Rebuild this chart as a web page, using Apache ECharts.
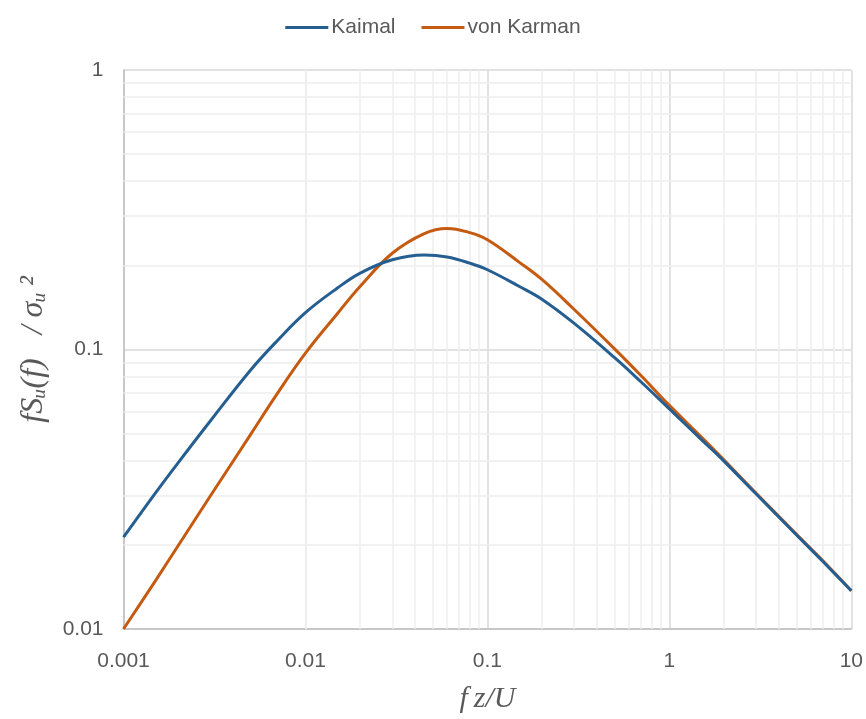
<!DOCTYPE html>
<html><head><meta charset="utf-8">
<script src="https://cdn.jsdelivr.net/npm/echarts@6/dist/echarts.min.js"></script>
<style>html,body{margin:0;padding:0;background:#fff}#c{width:866px;height:719px}</style>
</head><body><div id="c"></div>
<script>
var freq = [0.001,0.0015,0.002,0.003,0.005,0.007,0.01,0.015,0.02,0.03,0.045,0.06,0.08,0.1,0.15,0.2,0.3,0.5,0.7,1,1.5,2,3,5,7,10];
var kaimal = [0.0213,0.0307,0.0394,0.0555,0.0845,0.1075,0.1355,0.166,0.1877,0.2094,0.2178,0.2143,0.2037,0.1929,0.168,0.151,0.124,0.0935,0.0765,0.0613,0.0476,0.0398,0.0304,0.0217,0.0174,0.0137];
var vonKarman = [0.0100,0.0149,0.0199,0.0299,0.0497,0.0695,0.0970,0.1345,0.1684,0.221,0.260,0.271,0.262,0.247,0.205,0.1777,0.139,0.1005,0.0805,0.0631,0.0486,0.0402,0.0306,0.0218,0.0175,0.0137];
var seriesNames = ['Kaimal','von Karman'];
var xMinorGrid = [0.002,0.003,0.004,0.005,0.006,0.007,0.008,0.009,0.02,0.03,0.04,0.05,0.06,0.07,0.08,0.09,0.2,0.3,0.4,0.5,0.6,0.7,0.8,0.9,2,3,4,5,6,7,8,9];
var yMinorGrid = [0.02,0.03,0.04,0.05,0.06,0.07,0.08,0.09,0.2,0.3,0.4,0.5,0.6,0.7,0.8,0.9];

function pairs(xs, ys){ return xs.map(function(x,i){ return [x, ys[i]]; }); }
var minorData = xMinorGrid.map(function(v){ return {xAxis: v}; }).concat(yMinorGrid.map(function(v){ return {yAxis: v}; }));

var sansFont = '"Liberation Sans Narrow","Arial Narrow","Liberation Sans",sans-serif';
var mathFont = '"Liberation Serif","DejaVu Serif",serif';
var chart = echarts.init(document.getElementById('c'), null, {renderer:'canvas'});
chart.setOption({
  animation:false,
  backgroundColor:'#fff',
  legend:{
    top:12, left:'center', icon:'rect', itemWidth:43, itemHeight:3, itemGap:26,
    textStyle:{color:'#595959', fontSize:21, fontFamily:sansFont, padding:[0,0,0,-2]},
    data:seriesNames
  },
  grid:{left:123.5, right:13.5, top:70, bottom:84.5, containLabel:false},
  xAxis:{
    type:'log', logBase:10, min:0.001, max:10,
    name:'f\u2009z/U', nameLocation:'middle', nameGap:55,
    nameTextStyle:{fontFamily:mathFont, fontStyle:'italic', fontSize:30, color:'#595959'},
    axisLine:{show:true, lineStyle:{color:'#bfbfbf', width:1.5}},
    axisTick:{show:false},
    axisLabel:{margin:22, color:'#595959', fontSize:21, fontFamily:sansFont, formatter:function(v){return String(+v.toPrecision(3));}},
    splitLine:{show:true, lineStyle:{color:'#d9d9d9', width:1.5}}
  },
  yAxis:{
    type:'log', logBase:10, min:0.01, max:1,
    name:'fS\u1d64(f)\u2002 / \u03c3\u1d64\u2009\u00b2', nameLocation:'middle', nameGap:74, nameRotate:90,
    nameTextStyle:{fontFamily:mathFont, fontStyle:'italic', fontSize:32, color:'#595959'},
    axisLine:{show:true, lineStyle:{color:'#bfbfbf', width:1.5}},
    axisTick:{show:false},
    axisLabel:{margin:20, color:'#595959', fontSize:21, fontFamily:sansFont, formatter:function(v){return String(+v.toPrecision(3));}},
    splitLine:{show:true, lineStyle:{color:'#d9d9d9', width:1.5}}
  },
  series:[
    {
      name:'minor', type:'line', data:[], z:1, silent:true,
      markLine:{silent:true, z:1, symbol:['none','none'], label:{show:false}, animation:false,
        lineStyle:{color:'#eeeeee', width:1.5, type:'solid'}, emphasis:{disabled:true},
        data:minorData}
    },
    {name:seriesNames[0], type:'line', data:pairs(freq,kaimal), smooth:0.4, showSymbol:false, symbol:'none', z:10,
      itemStyle:{color:'#255e91'}, lineStyle:{width:3, color:'#255e91'}},
    {name:seriesNames[1], type:'line', data:pairs(freq,vonKarman), smooth:0.4, showSymbol:false, symbol:'none', z:9,
      itemStyle:{color:'#c55a11'}, lineStyle:{width:3, color:'#c55a11'}}
  ]
});
</script></body></html>
